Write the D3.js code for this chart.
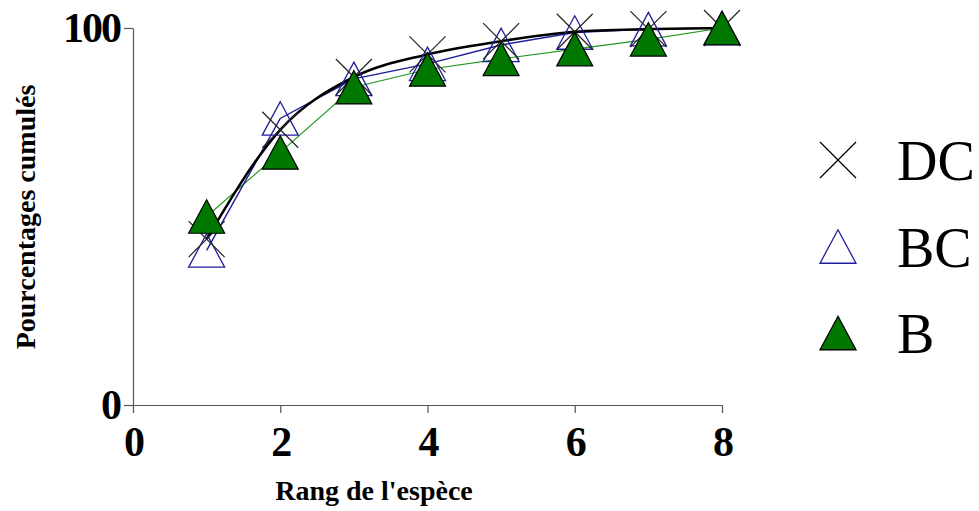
<!DOCTYPE html>
<html>
<head>
<meta charset="utf-8">
<script src="https://cdn.jsdelivr.net/npm/d3@7"></script>
<style>
  body { margin: 0; background: #fff; }
  svg { display: block; }
</style>
</head>
<body>
<svg id="chart" width="979" height="511"></svg>
<script>
// rang de l'espèce
const rangs = [1, 2, 3, 4, 5, 6, 7, 8];
// pourcentages cumulés par série
const serieDC = [44, 73, 87, 93, 96.5, 99, 99.7, 100];
const serieBC = [41, 76, 86.5, 90.5, 95.5, 98.8, 99.7, 100];
const serieB  = [50, 67, 84.3, 89, 91.8, 94.4, 97, 100];
const legende = ["DC", "BC", "B"];
const ticksX = [0, 2, 4, 6, 8];
const ticksY = [0, 100];

const police = "'Liberation Serif', 'Times New Roman', serif";

const svg = d3.select("#chart");

const x = d3.scaleLinear().domain([0, 8]).range([133, 722]);
const y = d3.scaleLinear().domain([0, 100]).range([405, 28]);

// triangle centré sur sa boite englobante
function triangle(s) {
  const h = s * 0.93;
  return `M0,${-h/2}L${s/2},${h/2}L${-s/2},${h/2}Z`;
}
function croix(s) {
  const r = s / 2;
  return `M${-r},${-r}L${r},${r}M${-r},${r}L${r},${-r}`;
}

/******** axes ********/
const axeX = svg.append("g")
  .attr("transform", `translate(0,${y(0)})`)
  .call(d3.axisBottom(x).tickValues(ticksX).tickSize(8).tickPadding(13).tickSizeOuter(0));
const axeY = svg.append("g")
  .attr("transform", `translate(${x(0)},0)`)
  .call(d3.axisLeft(y).tickValues(ticksY).tickSize(9).tickPadding(4).tickSizeOuter(0));

for (const axe of [axeX, axeY]) {
  axe.attr("font-family", police);
  axe.select(".domain").attr("stroke", "#555").attr("stroke-width", 1.2);
  axe.selectAll(".tick line").attr("stroke", "#555").attr("stroke-width", 1.2);
  axe.selectAll(".tick text")
    .attr("fill", "#000")
    .attr("font-family", police)
    .attr("font-weight", "bold")
    .attr("font-size", 42)
    .attr("letter-spacing", -2);
}

svg.append("text")
  .attr("x", 374).attr("y", 500)
  .attr("text-anchor", "middle")
  .attr("font-family", police)
  .attr("font-weight", "bold").attr("font-size", 28)
  .text("Rang de l'espèce");

svg.append("text")
  .attr("transform", "translate(35,217) rotate(-90)")
  .attr("text-anchor", "middle")
  .attr("font-family", police)
  .attr("font-weight", "bold").attr("font-size", 28)
  .text("Pourcentages cumulés");

/******** courbes ********/
const ligne = d3.line().x((d, i) => x(rangs[i])).y(d => y(d));

svg.append("path").datum(serieB)
  .attr("d", ligne)
  .attr("fill", "none").attr("stroke", "#1f991f").attr("stroke-width", 1.2);

svg.append("path").datum(serieBC)
  .attr("d", ligne)
  .attr("fill", "none").attr("stroke", "#1e1e9e").attr("stroke-width", 1.4);

svg.append("path").datum(serieDC)
  .attr("d", ligne.curve(d3.curveMonotoneX))
  .attr("fill", "none").attr("stroke", "#000").attr("stroke-width", 2.6);

/******** marqueurs ********/
svg.append("g").selectAll("path")
  .data(serieBC).enter().append("path")
  .attr("transform", (d, i) => `translate(${x(rangs[i])},${y(d)})`)
  .attr("d", triangle(36))
  .attr("fill", "none").attr("stroke", "#1e1e9e").attr("stroke-width", 1.3);

svg.append("g").selectAll("path")
  .data(serieDC).enter().append("path")
  .attr("transform", (d, i) => `translate(${x(rangs[i])},${y(d)})`)
  .attr("d", croix(36))
  .attr("fill", "none").attr("stroke", "#222").attr("stroke-width", 1.2);

svg.append("g").selectAll("path")
  .data(serieB).enter().append("path")
  .attr("transform", (d, i) => `translate(${x(rangs[i])},${y(d)})`)
  .attr("d", triangle(36))
  .attr("fill", "#007800").attr("stroke", "#000").attr("stroke-width", 1.2);

/******** légende ********/
const leg = svg.append("g");
const styles = [
  { d: croix(36), fill: "none", stroke: "#000" },
  { d: triangle(36), fill: "none", stroke: "#1e1e9e" },
  { d: triangle(36), fill: "#007800", stroke: "#000" }
];
legende.forEach((nom, i) => {
  const cy = 160 + i * 86.5;
  leg.append("path")
    .attr("transform", `translate(838,${cy})`)
    .attr("d", styles[i].d)
    .attr("fill", styles[i].fill).attr("stroke", styles[i].stroke).attr("stroke-width", 1.3);
  leg.append("text")
    .attr("x", 897).attr("y", cy + 20)
    .attr("font-family", police)
    .attr("font-size", 56)
    .text(nom);
});
</script>
</body>
</html>
